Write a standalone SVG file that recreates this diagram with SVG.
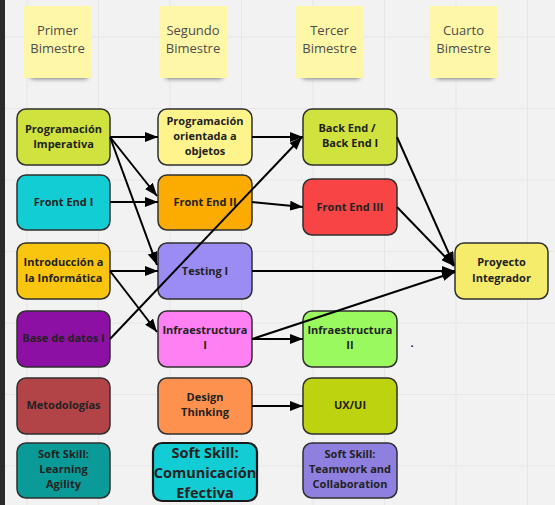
<svg xmlns="http://www.w3.org/2000/svg" width="555" height="505" viewBox="0 0 555 505">
<style>
.bg{fill:#f2f2f2}
.grid{stroke:#e6e6e6;stroke-width:1}
.note{fill:#fff7a8}
.nt{font-family:"Open Sans","Noto Sans",sans-serif;font-size:13px;fill:#4d4d4d;text-anchor:middle}
.box{stroke:#2f2f2f;stroke-width:1.5}
.t{font-family:"Open Sans","Noto Sans",sans-serif;font-size:11px;font-weight:bold;fill:#222;text-anchor:middle}
.tl{font-family:"Open Sans","Noto Sans",sans-serif;font-size:14.5px;font-weight:bold;fill:#222;text-anchor:middle}
.c{stroke:#000;stroke-width:2;fill:none}
.a{marker-end:url(#ah)}
</style>
<defs>
<marker id="ah" markerUnits="userSpaceOnUse" markerWidth="14" markerHeight="10" refX="13" refY="5" orient="auto">
<path d="M0,0 L13,5 L0,10 z" fill="#000"/>
</marker>
<filter id="sh" x="-20%" y="-100%" width="140%" height="300%">
<feGaussianBlur stdDeviation="2"/>
</filter>
</defs>
<rect class="bg" x="0" y="0" width="555" height="505"/>
<g id="grid">
<line class="grid" x1="27" y1="0" x2="27" y2="505"/>
<line class="grid" x1="98.5" y1="0" x2="98.5" y2="505"/>
<line class="grid" x1="170" y1="0" x2="170" y2="505"/>
<line class="grid" x1="241.5" y1="0" x2="241.5" y2="505"/>
<line class="grid" x1="313" y1="0" x2="313" y2="505"/>
<line class="grid" x1="384.5" y1="0" x2="384.5" y2="505"/>
<line class="grid" x1="456" y1="0" x2="456" y2="505"/>
<line class="grid" x1="527.5" y1="0" x2="527.5" y2="505"/>
<line class="grid" x1="0" y1="37" x2="555" y2="37"/>
<line class="grid" x1="0" y1="108.5" x2="555" y2="108.5"/>
<line class="grid" x1="0" y1="180" x2="555" y2="180"/>
<line class="grid" x1="0" y1="251.5" x2="555" y2="251.5"/>
<line class="grid" x1="0" y1="323" x2="555" y2="323"/>
<line class="grid" x1="0" y1="394.5" x2="555" y2="394.5"/>
<line class="grid" x1="0" y1="466" x2="555" y2="466"/>
</g>
<rect x="0" y="0" width="5" height="505" fill="#2b2b2b"/>

<g id="note-primer">
<rect x="30" y="73" width="58" height="6" rx="3" fill="#333" opacity="0.6" filter="url(#sh)"/>
<rect class="note" x="24" y="6" width="67" height="72"/>
<text class="nt" x="57.5" y="35">Primer</text>
<text class="nt" x="57.5" y="53">Bimestre</text>
</g>
<g id="note-segundo">
<rect x="165" y="73" width="58" height="6" rx="3" fill="#333" opacity="0.6" filter="url(#sh)"/>
<rect class="note" x="159" y="6" width="68" height="72"/>
<text class="nt" x="193" y="35">Segundo</text>
<text class="nt" x="193" y="53">Bimestre</text>
</g>
<g id="note-tercer">
<rect x="302" y="73" width="58" height="6" rx="3" fill="#333" opacity="0.6" filter="url(#sh)"/>
<rect class="note" x="296" y="6" width="67" height="72"/>
<text class="nt" x="329.5" y="35">Tercer</text>
<text class="nt" x="329.5" y="53">Bimestre</text>
</g>
<g id="note-cuarto">
<rect x="436" y="73" width="58" height="6" rx="3" fill="#333" opacity="0.6" filter="url(#sh)"/>
<rect class="note" x="430" y="6" width="67" height="72"/>
<text class="nt" x="463.5" y="35">Cuarto</text>
<text class="nt" x="463.5" y="53">Bimestre</text>
</g>

<g id="prog-imperativa">
<rect class="box" x="17" y="109" width="93" height="56" rx="9" fill="#cfe23d"/>
<text class="t" x="63.5" y="133">Programación</text>
<text class="t" x="63.5" y="148">Imperativa</text>
</g>
<g id="front-end-1">
<rect class="box" x="17" y="175" width="93" height="55" rx="9" fill="#12cdd4"/>
<text class="t" x="63.5" y="206">Front End I</text>
</g>
<g id="introduccion">
<rect class="box" x="17" y="243" width="93" height="56" rx="9" fill="#f9c50f"/>
<text class="t" x="63.5" y="266">Introducción a</text>
<text class="t" x="63.5" y="281.5">la Informática</text>
</g>
<g id="base-datos">
<rect class="box" x="17" y="311" width="93" height="56" rx="9" fill="#8d10a4"/>
<text class="t" x="63.5" y="342">Base de datos I</text>
</g>
<g id="metodologias">
<rect class="box" x="17" y="378" width="93" height="56" rx="9" fill="#b24447"/>
<text class="t" x="63.5" y="409">Metodologías</text>
</g>
<g id="learning-agility">
<rect class="box" x="17" y="443" width="93" height="55" rx="9" fill="#0a9a97"/>
<text class="t" x="63.5" y="458">Soft Skill:</text>
<text class="t" x="63.5" y="473">Learning</text>
<text class="t" x="63.5" y="488">Agility</text>
</g>

<g id="prog-oo">
<rect class="box" x="158" y="109" width="94" height="56" rx="9" fill="#fff48c"/>
<text class="t" x="205" y="125">Programación</text>
<text class="t" x="205" y="140">orientada a</text>
<text class="t" x="205" y="155">objetos</text>
</g>
<g id="front-end-2">
<rect class="box" x="158" y="175" width="94" height="55" rx="9" fill="#fcac00"/>
<text class="t" x="205" y="206">Front End II</text>
</g>
<g id="testing">
<rect class="box" x="158" y="243" width="94" height="56" rx="9" fill="#9a8cf3"/>
<text class="t" x="205" y="275">Testing I</text>
</g>
<g id="infra-1">
<rect class="box" x="158" y="311" width="94" height="56" rx="9" fill="#ff80f2"/>
<text class="t" x="205" y="334">Infraestructura</text>
<text class="t" x="205" y="349">I</text>
</g>
<g id="design-thinking">
<rect class="box" x="158" y="378" width="94" height="56" rx="9" fill="#ff914f"/>
<text class="t" x="205" y="401">Design</text>
<text class="t" x="205" y="416">Thinking</text>
</g>
<g id="comunicacion">
<rect x="153" y="443" width="104" height="58" rx="9" fill="#12cdd4" stroke="#1a1a1a" stroke-width="2.2"/>
<text class="tl" x="205" y="458">Soft Skill:</text>
<text class="tl" x="205" y="478">Comunicación</text>
<text class="tl" x="205" y="498">Efectiva</text>
</g>

<g id="back-end">
<rect class="box" x="303" y="109" width="94" height="56" rx="9" fill="#cfe23d"/>
<text class="t" x="347" y="132">Back End /</text>
<text class="t" x="350" y="147">Back End I</text>
</g>
<g id="front-end-3">
<rect class="box" x="303" y="179" width="94" height="56" rx="9" fill="#f84444"/>
<text class="t" x="350" y="211">Front End III</text>
</g>
<g id="infra-2">
<rect class="box" x="303" y="311" width="94" height="56" rx="9" fill="#9af95f"/>
<text class="t" x="350" y="334">Infraestructura</text>
<text class="t" x="350" y="349">II</text>
</g>
<g id="ux-ui">
<rect class="box" x="303" y="378" width="94" height="56" rx="9" fill="#bed30f"/>
<text class="t" x="350" y="409">UX/UI</text>
</g>
<g id="teamwork">
<rect class="box" x="303" y="443" width="94" height="55" rx="9" fill="#8f80df"/>
<text class="t" x="350" y="458">Soft Skill:</text>
<text class="t" x="350" y="473">Teamwork and</text>
<text class="t" x="350" y="488">Collaboration</text>
</g>

<g id="proyecto">
<rect class="box" x="455" y="243" width="93" height="56" rx="9" fill="#f6ec6b"/>
<text class="t" x="501.5" y="266">Proyecto</text>
<text class="t" x="501.5" y="281.5">Integrador</text>
</g>
<text class="t" x="412" y="347">.</text>

<g id="connectors">
<line class="c a" x1="110" y1="137" x2="158" y2="137"/>
<line class="c a" x1="110" y1="137" x2="157" y2="196"/>
<line class="c a" x1="110" y1="137" x2="157" y2="265"/>
<line class="c a" x1="110" y1="202" x2="158" y2="202"/>
<line class="c a" x1="110" y1="271" x2="158" y2="271"/>
<line class="c a" x1="110" y1="271" x2="157" y2="332"/>
<line class="c a" x1="110" y1="339" x2="302" y2="137"/>
<line class="c a" x1="252" y1="137" x2="303" y2="137"/>
<line class="c a" x1="252" y1="202" x2="303" y2="207"/>
<line class="c a" x1="252" y1="271" x2="455" y2="271"/>
<line class="c a" x1="252" y1="339" x2="303" y2="339"/>
<line class="c a" x1="252" y1="339" x2="455" y2="272"/>
<line class="c a" x1="397" y1="137" x2="454" y2="265"/>
<line class="c a" x1="397" y1="207" x2="454" y2="266"/>
<line class="c a" x1="252" y1="406" x2="303" y2="406"/>
</g>
</svg>
